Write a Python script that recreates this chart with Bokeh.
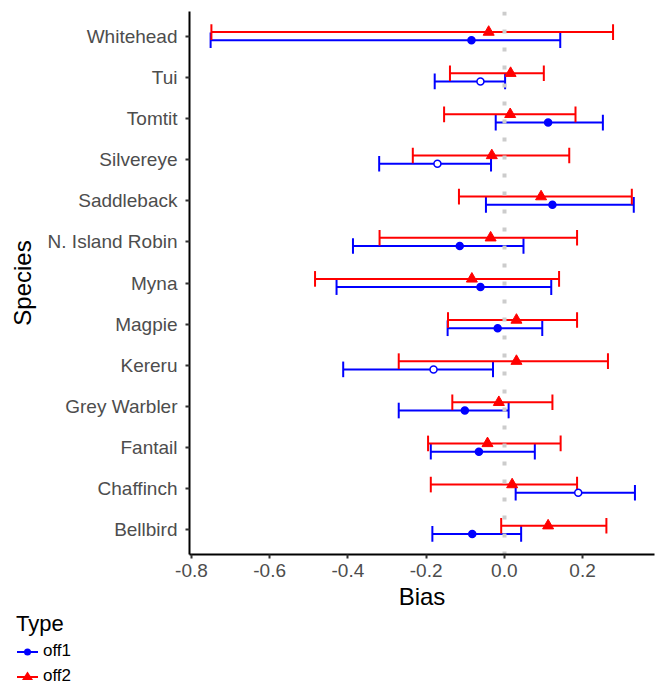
from bokeh.plotting import figure
from bokeh.layouts import column
from bokeh.models import (ColumnDataSource, FixedTicker, PrintfTickFormatter,
                          Range1d, Div)
from bokeh.transform import dodge
from bokeh.embed import file_html
from bokeh.resources import INLINE

# ---------------- data ----------------
species = ["Bellbird", "Chaffinch", "Fantail", "Grey Warbler", "Kereru", "Magpie",
           "Myna", "N. Island Robin", "Saddleback", "Silvereye", "Tomtit", "Tui",
           "Whitehead"]

off1_est = [-0.082, 0.189, -0.065, -0.101, -0.181, -0.017, -0.061, -0.114, 0.123,
            -0.171, 0.112, -0.061, -0.084]
off1_lo = [-0.184, 0.029, -0.188, -0.270, -0.412, -0.145, -0.429, -0.387, -0.047,
           -0.320, -0.022, -0.178, -0.751]
off1_hi = [0.043, 0.334, 0.078, 0.011, -0.029, 0.097, 0.120, 0.049, 0.331,
           -0.034, 0.252, 0.002, 0.143]
off1_open = [False, True, False, False, True, False, False, False, False,
             True, False, True, False]

off2_est = [0.112, 0.020, -0.043, -0.014, 0.031, 0.031, -0.083, -0.035, 0.094,
            -0.032, 0.015, 0.016, -0.040]
off2_lo = [-0.008, -0.188, -0.195, -0.133, -0.270, -0.144, -0.484, -0.319, -0.116,
           -0.234, -0.154, -0.139, -0.749]
off2_hi = [0.261, 0.186, 0.144, 0.123, 0.265, 0.186, 0.140, 0.186, 0.326,
           0.166, 0.182, 0.101, 0.278]

x_ticks = [-0.8, -0.6, -0.4, -0.2, 0.0, 0.2]
zero_ref = [0.0]
series_names = ["off1", "off2"]
legend_title = "Type"

# ---------------- style ----------------
FONT = "Liberation Sans"
BLUE = "#0000ff"
RED = "#ff0000"
DODGE = 0.1
CAP = 0.19
H1 = 614          # main plot height
H2 = 688 - H1     # legend strip height

ypos = list(range(1, len(species) + 1))

src1 = ColumnDataSource(dict(y=ypos, est=off1_est, lo=off1_lo, hi=off1_hi,
                             fill=["white" if o else BLUE for o in off1_open]))
src2 = ColumnDataSource(dict(y=ypos, est=off2_est, lo=off2_lo, hi=off2_hi))

p = figure(width=660, height=H1, output_backend="svg", toolbar_location=None,
           x_range=Range1d(-0.805, 0.384),
           y_range=Range1d(0.4, len(species) + 0.6),
           min_border_left=189, min_border_right=6, min_border_top=11,
           min_border_bottom=60)
p.title.visible = False
p.grid.visible = False
p.outline_line_color = None
p.background_fill_color = "white"
p.border_fill_color = "white"


def errbars(fig, src, off, color):
    fig.segment(x0="lo", x1="hi", y0=dodge("y", off), y1=dodge("y", off),
                source=src, line_color=color, line_width=2)
    fig.segment(x0="lo", x1="lo", y0=dodge("y", off - CAP), y1=dodge("y", off + CAP),
                source=src, line_color=color, line_width=2)
    fig.segment(x0="hi", x1="hi", y0=dodge("y", off - CAP), y1=dodge("y", off + CAP),
                source=src, line_color=color, line_width=2)


errbars(p, src1, -DODGE, BLUE)
errbars(p, src2, DODGE, RED)

p.vspan(x=zero_ref, line_color="#cccccc", line_width=4, line_dash="4 14")

p.scatter(x="est", y=dodge("y", -DODGE), source=src1, marker="circle",
          size=7, fill_color="fill", line_color=BLUE, line_width=1.5)
p.scatter(x="est", y=dodge("y", DODGE), source=src2, marker="triangle",
          size=11, fill_color=RED, line_color=RED, line_width=1)

# axes
p.xaxis.ticker = FixedTicker(ticks=x_ticks)
p.xaxis.formatter = PrintfTickFormatter(format="%.1f")
p.yaxis.ticker = FixedTicker(ticks=ypos)
p.yaxis.major_label_overrides = {y: s for y, s in zip(ypos, species)}
p.xaxis.axis_label = "Bias"
p.yaxis.axis_label = "Species"

for ax in (p.xaxis[0], p.yaxis[0]):
    ax.axis_line_color = "black"
    ax.axis_line_width = 2
    ax.major_tick_line_color = "#333333"
    ax.major_tick_line_width = 2
    ax.major_tick_in = 0
    ax.major_tick_out = 4
    ax.minor_tick_line_color = None
    ax.major_label_text_color = "#4d4d4d"
    ax.major_label_text_font = FONT
    ax.major_label_text_font_size = "19px"
    ax.axis_label_text_font = FONT
    ax.axis_label_text_font_size = "24px"
    ax.axis_label_text_font_style = "normal"
    ax.axis_label_text_color = "black"

p.yaxis.major_label_standoff = 8
p.yaxis.axis_label_standoff = 9
p.xaxis.major_label_standoff = 5
p.xaxis.axis_label_standoff = 3

# ---------------- legend strip (HTML, below the plot) ----------------
def key_svg(top, color, marker):
    if marker == "circle":
        mark = f'<circle cx="10.5" cy="7" r="3.5" fill="{color}"/>'
    else:
        mark = f'<polygon points="10.5,1.5 16,10 5,10" fill="{color}"/>'
    return (f'<svg style="position:absolute;left:17px;top:{top}px;" width="21" '
            f'height="14"><line x1="0" y1="7" x2="21" y2="7" stroke="{color}" '
            f'stroke-width="2"/>{mark}</svg>')


def txt(left, top, size, s):
    return (f'<span style="position:absolute;left:{left}px;top:{top}px;'
            f'font-size:{size}px;line-height:{size}px;white-space:nowrap;">{s}</span>')


key_y = [651.7 - H1, 676.7 - H1]
html = (f'<div style="position:relative;width:660px;height:{H2}px;'
        f"font-family:'{FONT}',Arial,sans-serif;color:black;\">"
        + txt(16, round(632 - 18.6 - H1, 1), 22, legend_title)
        + key_svg(round(key_y[0] - 7, 1), BLUE, "circle")
        + txt(43, round(656.7 - 14.4 - H1, 1), 17, series_names[0])
        + key_svg(round(key_y[1] - 7, 1), RED, "triangle")
        + txt(43, round(681 - 14.4 - H1, 1), 17, series_names[1])
        + '</div>')
leg = Div(text=html, width=660, height=H2, margin=0)

open("out.html", "w").write(file_html(column(p, leg, spacing=0), INLINE))
